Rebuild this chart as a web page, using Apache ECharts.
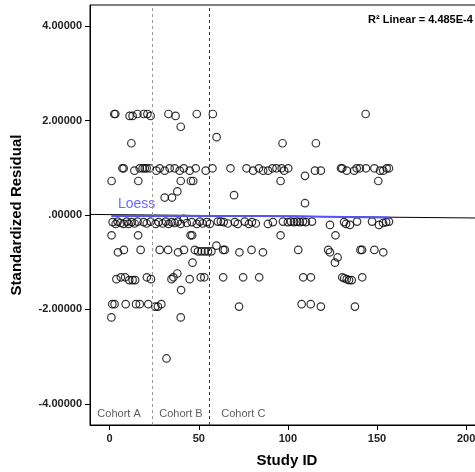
<!DOCTYPE html>
<html>
<head>
<meta charset="utf-8">
<script src="https://cdn.jsdelivr.net/npm/echarts@6/dist/echarts.min.js"></script>
<style>
  html, body { margin: 0; padding: 0; background: #fff; }
  #residualChart { width: 475px; height: 472px; }
</style>
</head>
<body>
<div id="residualChart"></div>
<script>
// study id / standardized residual, grouped by residual band
const bandTop = [[2.6,2.14],[3.2,2.14],[11.2,2.10],[12.9,2.10],[15.6,2.14],[19.1,2.14],[21.2,2.14],[23.0,2.10],[33.0,2.14],[37.0,2.10],[48.9,2.14],[57.9,2.14],[143.6,2.14],[39.9,1.87],[60.0,1.65],[12.2,1.52],[97.0,1.52],[115.7,1.52]];
const bandOne = [[7.2,0.99],[7.9,0.99],[13.9,0.94],[16.9,0.99],[18.5,0.99],[19.7,0.99],[20.8,0.99],[22.5,0.99],[26.2,0.94],[28.1,0.99],[30.9,0.94],[33.7,0.99],[36.5,0.99],[39.3,0.94],[41.6,0.99],[44.9,0.94],[48.3,0.99],[53.9,0.94],[57.7,0.99],[67.8,0.99],[76.8,0.99],[80.5,0.94],[83.7,0.99],[86.1,0.94],[88.9,0.94],[91.4,0.99],[93.6,0.99],[96.5,0.99],[97.9,0.94],[100.2,0.99],[109.6,0.83],[115.2,0.94],[118.5,0.94],[129.8,0.99],[130.5,0.99],[133.0,0.94],[137.2,0.94],[138.6,0.99],[140.4,0.99],[143.8,0.99],[148.5,0.99],[151.7,0.94],[153.5,0.94],[155.4,0.99],[156.7,0.99]];
const bandMid = [[1.1,0.72],[16.1,0.72],[39.9,0.72],[45.6,0.72],[46.9,0.72],[95.9,0.72],[150.7,0.72],[30.9,0.37],[35.0,0.37],[38.0,0.50],[69.8,0.42],[109.6,0.25]];
const bandZero = [[1.7,-0.15],[3.4,-0.19],[4.5,-0.14],[6.2,-0.17],[7.9,-0.19],[9.6,-0.14],[10.7,-0.19],[12.4,-0.15],[14.0,-0.18],[15.7,-0.14],[19.1,-0.15],[20.8,-0.18],[23.0,-0.14],[25.8,-0.19],[27.5,-0.15],[29.8,-0.18],[31.5,-0.14],[33.1,-0.19],[34.8,-0.15],[36.5,-0.17],[38.2,-0.14],[39.9,-0.19],[41.6,-0.08],[43.3,-0.17],[46.1,-0.15],[48.9,-0.19],[50.6,-0.14],[52.2,-0.18],[54.5,-0.15],[56.2,-0.19],[60.7,-0.14],[62.4,-0.14],[64.0,-0.15],[66.3,-0.18],[70.2,-0.15],[71.9,-0.19],[75.8,-0.14],[78.1,-0.19],[79.8,-0.15],[82.0,-0.18],[88.8,-0.19],[91.6,-0.15],[97.2,-0.14],[100.0,-0.15],[101.7,-0.14],[103.4,-0.15],[105.1,-0.14],[106.7,-0.15],[108.4,-0.14],[110.1,-0.15],[113.5,-0.14],[123.6,-0.21],[131.5,-0.15],[132.6,-0.19],[134.8,-0.21],[138.8,-0.14],[147.2,-0.14],[151.1,-0.21],[153.4,-0.17],[155.1,-0.15],[156.7,-0.14]];
const bandNegOne = [[1.1,-0.43],[16.0,-0.43],[45.4,-0.43],[46.3,-0.43],[95.9,-0.43],[126.7,-0.43],[4.7,-0.79],[8.0,-0.74],[17.4,-0.74],[28.1,-0.74],[32.8,-0.74],[38.4,-0.79],[41.7,-0.74],[47.8,-0.74],[49.6,-0.77],[51.5,-0.77],[53.4,-0.77],[55.2,-0.77],[57.1,-0.77],[59.9,-0.65],[63.7,-0.74],[64.6,-0.74],[72.8,-0.79],[79.6,-0.74],[86.0,-0.79],[105.8,-0.74],[122.6,-0.74],[123.6,-0.79],[127.9,-0.90],[126.4,-1.01],[140.7,-0.74],[141.6,-0.74],[148.5,-0.74],[153.5,-0.79],[46.5,-1.01]];
const bandNegTwo = [[3.8,-1.36],[6.3,-1.32],[8.7,-1.32],[11.0,-1.38],[12.9,-1.38],[14.3,-1.38],[20.9,-1.32],[23.2,-1.36],[34.7,-1.36],[35.8,-1.32],[38.0,-1.24],[40.1,-1.59],[44.9,-1.36],[51.1,-1.32],[53.1,-1.32],[63.7,-1.32],[74.9,-1.32],[83.9,-1.32],[108.6,-1.32],[112.9,-1.32],[130.5,-1.32],[131.6,-1.34],[133.0,-1.36],[134.3,-1.38],[135.8,-1.38],[141.7,-1.32]];
const bandNegThree = [[1.5,-1.89],[2.8,-1.89],[9.0,-1.89],[14.8,-1.89],[16.9,-1.89],[21.7,-1.89],[25.7,-1.94],[27.1,-1.94],[29.0,-1.89],[72.6,-1.94],[107.7,-1.89],[112.8,-1.89],[118.5,-1.94],[137.6,-1.94],[1.0,-2.17],[39.9,-2.17],[31.9,-3.04]];

// fit lines
const loessX = [1, 40, 80, 120, 157];
const loessY = [-0.02, -0.02, -0.02, -0.035, -0.055];
const linearX = [-11, 210];
const linearY = [0.012, -0.065];

// cohort boundaries and labels
const cohortBreaks = [24, 56];
const cohortNames = ['Cohort A', 'Cohort B', 'Cohort C'];
const cohortLabelX = [5.3, 40, 75];
const xTicks = [0, 50, 100, 150, 200];
const yTicks = [-4, -2, 0, 2, 4];
const r2Text = 'R² Linear = 4.485E-4';

const font = 'Liberation Sans, Arial, sans-serif';
const points = [].concat(bandTop, bandOne, bandMid, bandZero, bandNegOne, bandNegTwo, bandNegThree);

let chart = echarts.init(document.getElementById('residualChart'));
let option = {
  animation: false,
  grid: {
    left: 90, width: 394, top: 5, bottom: 47,
    outerBoundsMode: 'none',
    show: true, borderColor: '#000', borderWidth: 1
  },
  xAxis: {
    type: 'value', min: -11, max: 210,
    name: 'Study ID', nameLocation: 'middle', nameGap: 28,
    nameTextStyle: { fontFamily: font, fontWeight: 'bold', fontSize: 15, color: '#000' },
    axisLine: { onZero: false, lineStyle: { color: '#000' } },
    axisTick: { length: 5, customValues: xTicks, lineStyle: { color: '#000' } },
    axisLabel: { customValues: xTicks, fontFamily: font, fontWeight: 'bold', fontSize: 11, color: '#222', margin: 8 },
    splitLine: { show: false }
  },
  yAxis: {
    type: 'value', min: -4.45, max: 4.45,
    name: 'Standardized Residual', nameLocation: 'middle', nameGap: 66,
    nameTextStyle: { fontFamily: font, fontWeight: 'bold', fontSize: 15, color: '#000' },
    axisLine: { onZero: false, lineStyle: { color: '#000' } },
    axisTick: { length: 5, customValues: yTicks, lineStyle: { color: '#000' } },
    axisLabel: {
      customValues: yTicks, fontFamily: font, fontWeight: 'bold', fontSize: 11, color: '#222', margin: 8,
      formatter: function (v) {
        let s = v.toFixed(5);
        return v === 0 ? s.substring(1) : s;
      }
    },
    splitLine: { show: false }
  },
  series: [
    {
      type: 'scatter',
      data: points,
      symbol: 'circle',
      symbolSize: 7.5,
      itemStyle: { color: 'rgba(255,255,255,0)', borderColor: '#000', borderWidth: 1.2 },
      markLine: {
        silent: true, symbol: 'none', label: { show: false },
        data: [
          { xAxis: cohortBreaks[0], lineStyle: { color: '#999', type: [3, 3], width: 1 } },
          { xAxis: cohortBreaks[1], lineStyle: { color: '#333', type: [3, 3], width: 1 } }
        ]
      },
      z: 3
    },
    {
      type: 'line',
      data: linearX.map((x, i) => [x, linearY[i]]),
      symbol: 'none',
      lineStyle: { color: '#000', width: 1 },
      z: 2
    },
    {
      type: 'line',
      data: loessX.map((x, i) => [x, loessY[i]]),
      symbol: 'none', smooth: true,
      lineStyle: { color: '#5252ff', width: 2 },
      z: 4
    },
    {
      // cohort name texts along the bottom
      type: 'scatter',
      symbolSize: 0,
      data: cohortLabelX.map((x, i) => ({ value: [x, -4.22], name: cohortNames[i] })),
      label: {
        show: true, position: 'inside', formatter: '{b}',
        fontFamily: font, fontSize: 11, color: '#333'
      },
      z: 5
    }
  ],
  graphic: [
    {
      type: 'text', left: 368, top: 14,
      style: { text: r2Text, font: 'bold 11px ' + font, fill: '#000' }
    },
    {
      type: 'text', left: 118, top: 197,
      style: { text: 'Loess', font: '14px ' + font, fill: '#6a6aff' }
    }
  ]
};
chart.setOption(option);
</script>
</body>
</html>
